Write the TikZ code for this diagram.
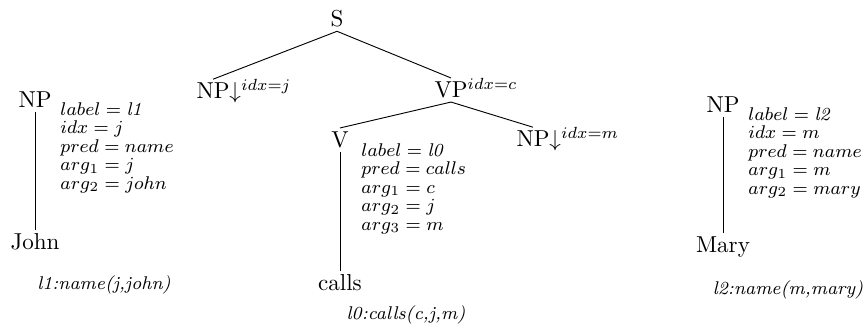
\documentclass[tikz,border=0pt]{standalone}
\usepackage{amsmath}
\usepackage{tikz}
\usetikzlibrary{positioning,calc}

\begin{document}
\begin{tikzpicture}[x=0.434pt, y=-0.434pt,
        cat/.style={inner sep=1.5pt},
        feats/.style={anchor=north west, align=left, inner sep=0pt,
                      font=\fontsize{8}{8}\selectfont},
        sem/.style={font=\footnotesize\itshape, inner sep=0pt},
        branch/.style={thin, black}
    ]
    \useasboundingbox (0,0) rectangle (864,326);

    % initial tree for "calls"
    \node[cat] (s) at (337,19) {S};
    \node[cat] (npj) at (213,91) {NP\rlap{\smash{$\downarrow^{idx=j}$}}};
    \node[cat] (vp) at (451,90) {VP\rlap{\smash{$^{idx=c}$}}};
    \node[cat] (v) at (340,140) {V};
    \node[cat] (npm) at (533,139) {NP\rlap{\smash{$\downarrow^{idx=m}$}}};
    \node[cat] (calls) at (340,283) {calls};
    \node[feats] (fv) at (361,143) {$label = \mathit{l0}$\\ $pred = calls$\\
        $arg_1 = c$\\ $arg_2 = j$\\ $arg_3 = m$};
    \node[sem] (semv) at (406,315) {l0:calls(c,j,m)};

    \draw[branch] (s.south) -- (npj.north);
    \draw[branch] (s.south) -- (vp.north);
    \draw[branch] (vp.south) -- (v.north);
    \draw[branch] (vp.south) -- (npm.north);
    \draw[branch] (v.south) -- (calls.north);

    % tree for "John"
    \node[cat] (np1) at (35,100) {NP};
    \node[cat] (john) at (35,242) {John};
    \node[feats] (f1) at (60,102) {$label = \mathit{l1}$\\ $idx = j$\\
        $pred = name$\\ $arg_1 = j$\\ $arg_2 = john$};
    \node[sem] (sem1) at (104,285) {l1:name(j,john)};
    \draw[branch] (np1.south) -- (john.north);

    % tree for "Mary"
    \node[cat] (np2) at (723,105) {NP};
    \node[cat] (mary) at (723,247) {Mary};
    \node[feats] (f2) at (748,107) {$label = \mathit{l2}$\\ $idx = m$\\
        $pred = name$\\ $arg_1 = m$\\ $arg_2 = mary$};
    \node[sem] (sem2) at (788,290) {l2:name(m,mary)};
    \draw[branch] (np2.south) -- (mary.north);
\end{tikzpicture}
\end{document}
